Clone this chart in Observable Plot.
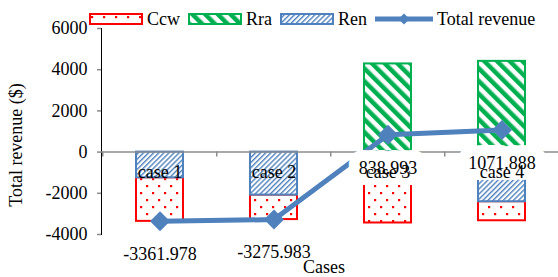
<!DOCTYPE html>
<html>
<head>
<meta charset="utf-8">
<script src="https://cdn.jsdelivr.net/npm/d3@7"></script>
<script src="https://cdn.jsdelivr.net/npm/@observablehq/plot@0.6"></script>
<style>
  html, body { margin: 0; padding: 0; background: white; }
  #wrap { position: relative; width: 558px; height: 277px; overflow: hidden; font-family: "Liberation Serif", "Tinos", "Times New Roman", "DejaVu Serif", serif; }
  #wrap svg text { font-family: "Liberation Serif", "Tinos", "Times New Roman", "DejaVu Serif", serif; }
  #legend { position: absolute; left: 89px; top: 8px; height: 22px; display: flex; align-items: center; font-size: 18px; color: black; white-space: nowrap; }
  #legend .item { display: flex; align-items: center; margin-right: 8px; }
  #legend svg { display: block; margin-right: 4px; }
  #wrap svg.plot g[aria-label^="y-axis"] line,
  #wrap svg.plot g[aria-label^="y-axis"] path { stroke: #8c8c8c !important; stroke-width: 1.5px; }
</style>
</head>
<body>
<svg width="0" height="0" style="position:absolute">
  <defs>
    <pattern id="pat-ccw" patternUnits="userSpaceOnUse" width="12" height="14">
      <rect width="12" height="14" fill="white"/>
      <rect x="2" y="3" width="2.2" height="2.2" fill="#ff0000"/>
      <rect x="8" y="10" width="2.2" height="2.2" fill="#ff0000"/>
    </pattern>
    <pattern id="pat-rra" patternUnits="userSpaceOnUse" width="9" height="9" patternTransform="rotate(-45)">
      <rect width="9" height="9" fill="white"/>
      <rect width="4.5" height="9" fill="#00b050"/>
    </pattern>
    <pattern id="pat-ren" patternUnits="userSpaceOnUse" width="3.6" height="3.6" patternTransform="rotate(45)">
      <rect width="3.6" height="3.6" fill="white"/>
      <rect width="1.4" height="3.6" fill="#4f81bd"/>
    </pattern>
  </defs>
</svg>
<div id="wrap">
  <div id="legend"></div>
</div>
<script>
// ---- data ----
const cases = ["case 1", "case 2", "case 3", "case 4"];
const seriesNames = ["Ccw", "Rra", "Ren"];
const ccw = [-2114, -1189, -1996, -923];
const rra = [0, 0, 4280, 4405];
const ren = [-1248, -2087, -1445, -2410];
const totalRevenue = [-3361.978, -3275.983, 838.993, 1071.888];
const totalLabels = ["-3361.978", "-3275.983", "838.993", "1071.888"];
const yTicks = [-4000, -2000, 0, 2000, 4000, 6000];

// ---- styles ----
const fontStack = '"Liberation Serif", "Tinos", "Times New Roman", "DejaVu Serif", serif';
const fills = {Ccw: "url(#pat-ccw)", Rra: "url(#pat-rra)", Ren: "url(#pat-ren)"};
const strokes = {Ccw: "#ff0000", Rra: "#00b050", Ren: "#4f81bd"};
const lineColor = "#4f81bd";

const seriesValues = {Ccw: ccw, Rra: rra, Ren: ren};
const bars = [];
cases.forEach((c, i) => {
  seriesNames.forEach(s => {
    const v = seriesValues[s][i];
    if (v !== 0) bars.push({case: c, series: s, value: v});
  });
});
const totals = cases.map((c, i) => ({case: c, total: totalRevenue[i], label: totalLabels[i], zero: 0}));

const W = 558, H = 277, mL = 101, mR = -1, mT = 28, mB = 43;
const step = (W - mL - mR) / cases.length;

const chart = Plot.plot({
  width: W, height: H,
  marginTop: mT, marginBottom: mB, marginLeft: mL, marginRight: mR,
  style: {fontFamily: fontStack, fontSize: "18px", color: "black", background: "white", overflow: "visible"},
  x: {domain: cases, paddingInner: 0.59, paddingOuter: 0.295, axis: null},
  y: {domain: [-4000, 6000], ticks: yTicks, tickFormat: d => String(d), tickSize: 4, tickPadding: 10, label: null, line: true},
  color: {type: "identity"},
  marks: [
    Plot.barY(bars, Plot.stackY({
      x: "case", y: "value", z: "series",
      order: ["Ren", "Ccw", "Rra"],
      fill: d => fills[d.series],
      stroke: d => strokes[d.series],
      strokeWidth: 2
    })),
    Plot.ruleY([0], {stroke: "#8c8c8c", strokeWidth: 1.5}),
    Plot.ruleX(totals, {x: "case", y1: "zero", y2: "zero", dx: -step / 2, insetBottom: -5, stroke: "#8c8c8c", strokeWidth: 1.5}),
    Plot.ruleX(totals.slice(-1), {x: "case", y1: "zero", y2: "zero", dx: step / 2, insetBottom: -5, stroke: "#8c8c8c", strokeWidth: 1.5}),
    Plot.line(totals, {x: "case", y: "total", stroke: lineColor, strokeWidth: 5}),
    Plot.dot(totals, {x: "case", y: "total", symbol: "diamond2", r: 9, fill: lineColor, stroke: "none"}),
    Plot.text(totals, {x: "case", y: "total", text: "label", lineAnchor: "top", dy: 26, fill: "black", stroke: "white", strokeWidth: 22}),
    Plot.text(totals, {x: "case", y: "zero", text: "case", lineAnchor: "top", dy: 13, fill: "black"})
  ]
});
chart.classList.add("plot");

const svg = d3.select(chart);
svg.append("text")
  .attr("transform", "translate(22,145) rotate(-90)")
  .attr("text-anchor", "middle")
  .attr("fill", "black")
  .style("font-size", "18px")
  .text("Total revenue ($)");
svg.append("text")
  .attr("x", 324).attr("y", 273)
  .attr("text-anchor", "middle")
  .attr("fill", "black")
  .style("font-size", "18px")
  .text("Cases");

const wrap = document.getElementById("wrap");
wrap.insertBefore(chart, wrap.firstChild);

// ---- legend ----
const legend = d3.select("#legend");
seriesNames.forEach(s => {
  const it = legend.append("div").attr("class", "item");
  const sw = it.append("svg").attr("width", 54).attr("height", 12);
  sw.append("rect").attr("x", 1).attr("y", 1).attr("width", 52).attr("height", 10)
    .attr("fill", fills[s]).attr("stroke", strokes[s]).attr("stroke-width", 2);
  it.append("span").text(s);
});
{
  const it = legend.append("div").attr("class", "item");
  const sw = it.append("svg").attr("width", 58).attr("height", 14);
  sw.append("line").attr("x1", 0).attr("x2", 58).attr("y1", 7).attr("y2", 7)
    .attr("stroke", lineColor).attr("stroke-width", 5);
  sw.append("path").attr("d", d3.symbol(d3.symbolDiamond2, 80)()).attr("transform", "translate(29,7)").attr("fill", lineColor);
  it.append("span").text("Total revenue");
}
</script>
</body>
</html>
